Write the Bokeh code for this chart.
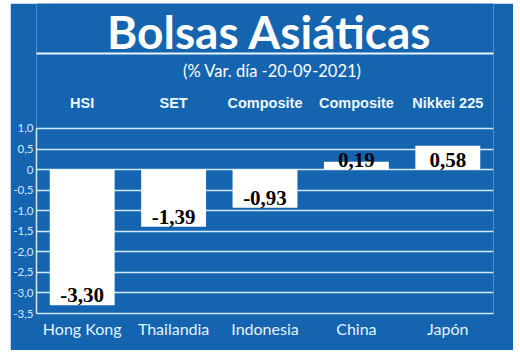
from bokeh.plotting import figure
from bokeh.models import FactorRange, Range1d, FixedTicker, Label, BoxAnnotation, ColumnDataSource, Spacer
from bokeh.layouts import column, row
from bokeh.embed import file_html
from bokeh.resources import INLINE
from bokeh.core.properties import value

countries = ["Hong Kong", "Thailandia", "Indonesia", "China", "Japón"]
indices = ["HSI", "SET", "Composite", "Composite", "Nikkei 225"]
changes = [-3.30, -1.39, -0.93, 0.19, 0.58]
value_labels = ["-3,30", "-1,39", "-0,93", "0,19", "0,58"]
y_ticks = [1.0, 0.5, 0.0, -0.5, -1.0, -1.5, -2.0, -2.5, -3.0, -3.5]
y_tick_labels = ["1,0", "0,5", "0", "-0,5", "-1,0", "-1,5", "-2,0", "-2,5", "-3,0", "-3,5"]
title_text = "Bolsas Asiáticas"
subtitle_text = "(% Var. día -20-09-2021)"

BLUE = "#1464b0"
GRID = "#d2e9f9"

src = ColumnDataSource(dict(
    country=countries,
    index=indices,
    change=changes,
    label=value_labels,
    label_y=[min(v, 0.0) for v in changes],
))

p = figure(
    x_range=FactorRange(*countries, range_padding=0),
    y_range=Range1d(-3.5, 4.04),
    width=503, height=347,
    output_backend="svg", toolbar_location=None,
    min_border_left=26, min_border_right=20, min_border_top=0, min_border_bottom=37,
    background_fill_color=BLUE, border_fill_color=BLUE, outline_line_color=None,
)

p.vbar(x="country", top="change", bottom=0, width=0.71, source=src,
       fill_color="white", line_color=None)

p.text(x="country", y="label_y", text="label", source=src,
       text_align="center", text_baseline="middle", y_offset=-10,
       text_font=value("Liberation Serif"), text_font_style="bold",
       text_font_size="21px", text_color="black")

p.text(x="country", y=1.632, text="index", source=src,
       text_align="center", text_baseline="middle",
       text_font=value("Liberation Sans"), text_font_style="bold",
       text_font_size="14.5px", text_color="#eef7ff")

p.add_layout(Label(x=2.55, y=3.36, text=title_text, text_align="center",
                   text_baseline="middle", text_font="Lato", text_font_style="bold",
                   text_font_size="46px", text_color="white"))
p.add_layout(Label(x=2.58, y=2.41, text=subtitle_text, text_align="center",
                   text_baseline="middle", text_font="Lato",
                   text_font_size="16.5px", text_color="white"))
p.add_layout(BoxAnnotation(left=-0.284, right=5.0, top=2.85, bottom=2.80,
                           fill_color="#e8f4fc", fill_alpha=1.0, line_color=None))

p.yaxis.bounds = (-3.5, 1.0)
p.yaxis.ticker = FixedTicker(ticks=y_ticks)
p.yaxis.major_label_overrides = {t: l for t, l in zip(y_ticks, y_tick_labels)}
p.yaxis.major_tick_line_color = None
p.yaxis.major_tick_out = 0
p.yaxis.major_tick_in = 0
p.yaxis.minor_tick_line_color = None
p.yaxis.minor_tick_out = 0
p.yaxis.axis_line_color = GRID
p.yaxis.axis_line_width = 1.5
p.yaxis.major_label_text_color = "#d3eafb"
p.yaxis.major_label_text_font = "Lato"
p.yaxis.major_label_text_font_size = "11.5px"
p.yaxis.major_label_standoff = 3

p.xaxis.major_tick_line_color = None
p.xaxis.major_tick_out = 0
p.xaxis.major_tick_in = 0
p.xaxis.axis_line_color = GRID
p.xaxis.axis_line_width = 1.5
p.xaxis.major_label_text_color = "#e6f3fc"
p.xaxis.major_label_text_font = "Lato"
p.xaxis.major_label_text_font_size = "16px"
p.xaxis.major_label_standoff = 5

p.xgrid.visible = False
p.ygrid.grid_line_color = GRID
p.ygrid.grid_line_width = 1.5

layout = column(Spacer(height=3), row(Spacer(width=10), p))
open("out.html", "w").write(file_html(layout, INLINE))
